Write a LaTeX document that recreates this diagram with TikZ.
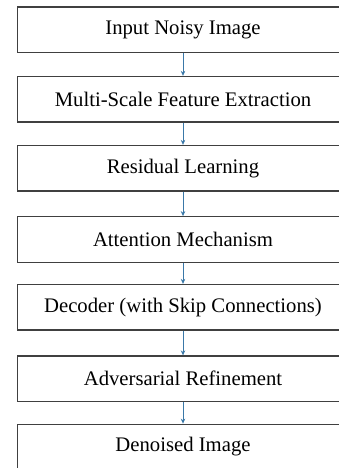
\documentclass[tikz,border=0pt]{standalone}
\usepackage{fontspec}
\setmainfont{Liberation Serif}
\usetikzlibrary{arrows.meta}
\definecolor{boxline}{HTML}{404040}
\definecolor{flowblue}{HTML}{3A78A8}
\tikzset{
  stage/.style={draw=boxline, line width=1.3pt, fill=white,
    minimum width=331pt, minimum height=45.5pt, inner sep=0pt,
    font=\fontsize{20.7}{24}\selectfont, text=black},
  flow/.style={draw=flowblue, line width=1pt,
    -{Stealth[length=5pt,width=4.5pt]}}
}
\begin{document}
\begin{tikzpicture}[x=1pt,y=1pt]
  \useasboundingbox (0,0) rectangle (339,-468);
  \clip (0,0) rectangle (339,-468);
  \node[stage] (s1) at (183,-29.75)  {Input Noisy Image};
  \node[stage] (s2) at (183,-99.25)  {Multi-Scale Feature Extraction};
  \node[stage] (s3) at (183,-168.25) {Residual Learning};
  \node[stage] (s4) at (183,-239.5)  {Attention Mechanism};
  \node[stage] (s5) at (183,-307.25) {Decoder (with Skip Connections)};
  \node[stage] (s6) at (183,-378.75) {Adversarial Refinement};
  \node[stage] (s7) at (183,-447)    {Denoised Image};
  \foreach \a/\b in {s1/s2,s2/s3,s3/s4,s4/s5,s5/s6,s6/s7}
    \draw[flow] (\a.south) -- (\b.north);
\end{tikzpicture}
\end{document}
